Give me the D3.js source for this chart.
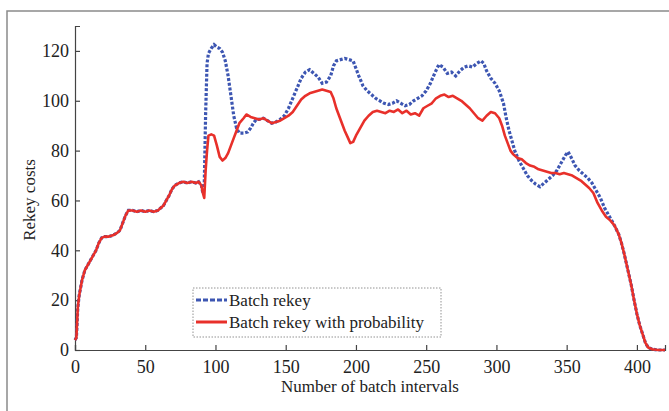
<!DOCTYPE html>
<html>
<head>
<meta charset="utf-8">
<script src="https://cdn.jsdelivr.net/npm/d3@7"></script>
<style>
  body { margin: 0; background: #fff; }
  text { font-family: "Liberation Serif", "DejaVu Serif", serif; fill: #222; }
</style>
</head>
<body>
<svg id="graph"></svg>
<script>
// x ticks / y ticks
var xTicks = [0, 50, 100, 150, 200, 250, 300, 350, 400]
var yTicks = [0, 20, 40, 60, 80, 100, 120]

// both curves follow the same path at the start and at the end
var sharedStart = [[0,4],[1,5],[2,17],[3,22],[5,28],[7,32],[9,34],[11,36],[13,38],[15,40],[17,43],[19,45],
  [21,45.5],[24,45.5],[27,46],[30,47],[32,48],[34,51],[36,54],[38,56],[41,56],[44,55.5],[47,56],[50,55.5],
  [53,56],[56,55.5],[59,56],[61,57],[63,58],[65,60],[67,62],[69,64.5],[71,66],[74,67],[77,67.5],[80,67],
  [83,67.5],[86,67],[88,67.5],[90,66],[91,63]]

var sharedEnd = [[384,50],[387,46.5],[389,43],[391,38.5],[394,31],[396,26],[398,20],[400,14.5],[402,10],
  [404,6.5],[406,3],[408,1],[411,0.3],[415,0],[420,0]]

// "Batch rekey with probability" between the shared parts
var probMiddle = [[92,61],[93,72],[94,80],[95,86],[97,86.5],[99,86],[101,82],[103,77.5],[105,76],[107,77],
  [109,79],[111,82],[113,85],[115,88],[117,91],[120,93],[122,94.5],[125,93.5],[128,93],[131,92.5],[134,93],
  [137,92],[140,91],[143,91.5],[146,92],[149,93],[152,94],[155,95.5],[158,98],[161,100.5],[164,102],[167,103],
  [170,103.5],[173,104],[176,104.5],[179,104],[182,103.5],[184,101],[186,97],[188,94],[190,91],[192,88],
  [194,85.5],[196,83],[198,83.5],[200,86],[203,89],[206,92],[209,94],[212,95.5],[215,96],[218,95.5],[221,95],
  [224,96],[227,95.5],[230,96.5],[233,95],[236,96],[239,94.5],[242,95],[245,94],[248,97],[251,98],[254,99],
  [257,101],[260,102],[263,102.5],[266,101.5],[269,102],[272,101],[275,100],[278,98.5],[281,97],[284,95],
  [287,93],[290,92],[293,94],[296,95.5],[299,95],[302,93],[304,90],[306,86],[308,83],[310,80],[312,78.5],
  [315,77],[318,76.5],[321,75],[324,74],[327,73.5],[330,72.5],[333,72],[336,71.5],[339,71],[342,71],
  [345,70.5],[348,71],[351,70.5],[354,70],[357,69],[360,68],[363,66.5],[366,65],[369,63],[372,59],[375,56],
  [378,53.5],[381,52]]

// "Batch rekey" between the shared parts
var batchMiddle = [[92,66],[93,95],[94,115],[95,119],[97,121],[99,122.5],[101,121.5],[103,121],[105,119.5],
  [107,116],[109,110],[111,102],[113,94],[115,89],[117,87],[120,87],[123,87.5],[125,89],[127,91],[129,92.5],
  [131,92.5],[134,93],[137,92],[140,91],[143,91.5],[146,92.5],[149,94],[152,97],[155,101],[158,105],[161,109],
  [164,111.5],[167,112.5],[170,111],[173,109.5],[176,107],[179,107.5],[182,110],[184,114],[186,116],[189,116.5],
  [192,117],[195,116.5],[198,116],[200,113],[202,110],[205,106],[208,104],[211,102.5],[214,101],[217,100],
  [220,99],[223,98.5],[226,99],[229,100],[232,99],[235,98],[238,98.5],[241,100],[244,101],[247,102],[250,104],
  [253,107],[256,111],[259,114.5],[262,113.5],[265,111],[268,111.5],[271,110],[274,112],[277,113.5],[280,114],
  [283,113.5],[286,115],[289,116],[291,115],[293,112],[296,109],[299,107],[302,104],[305,99],[307,93],[309,88],
  [311,84],[313,80],[316,76],[319,73],[322,70],[325,68],[328,66.5],[331,65.5],[334,67],[337,68.5],[340,70],
  [343,72],[346,75],[349,78],[351,79.5],[353,77.5],[356,74],[359,72],[362,70.5],[365,69],[368,67],[371,64],
  [374,61],[377,57],[380,54],[383,51]]

var seriesNames = ["Batch rekey", "Batch rekey with probability"]

var batchData = sharedStart.concat(batchMiddle, sharedEnd)
var probData = sharedStart.concat(probMiddle, sharedEnd)

var screen = {width: 669, height: 411}
var margin = {left: 75, right: 4, top: 26, bottom: 61}

var svg = d3.select("#graph")
    .attr("width", screen.width)
    .attr("height", screen.height)

// outer frame of the figure
svg.append("rect")
    .attr("x", 7)
    .attr("y", 11)
    .attr("width", 700)
    .attr("height", 500)
    .attr("fill", "none")
    .attr("stroke", "#8a8a8a")
    .attr("stroke-width", 1.5)

var xScale = d3.scaleLinear()
    .domain([0, 420])
    .range([margin.left, screen.width - margin.right])

var yScale = d3.scaleLinear()
    .domain([0, 130])
    .range([screen.height - margin.bottom, margin.top])

var xAxis = d3.axisBottom(xScale)
    .tickValues(xTicks)
    .tickSizeInner(-5)
    .tickSizeOuter(-5)
    .tickPadding(10)

var yAxis = d3.axisLeft(yScale)
    .tickValues(yTicks)
    .tickSizeInner(-5)
    .tickSizeOuter(-5)
    .tickPadding(6)

var gx = svg.append("g")
    .attr("transform", "translate(0," + yScale(0) + ")")
    .call(xAxis)

var gy = svg.append("g")
    .attr("transform", "translate(" + xScale(0) + ",0)")
    .call(yAxis)

svg.selectAll(".domain, .tick line")
    .attr("stroke", "#444")
    .attr("stroke-width", 1.2)
svg.selectAll(".tick text")
    .style("font-family", "'Liberation Serif', serif")
    .style("font-size", "18px")
    .attr("fill", "#222")

var line = d3.line()
    .x(function(d) { return xScale(d[0]) })
    .y(function(d) { return yScale(d[1]) })

svg.append("path")
    .datum(batchData)
    .attr("d", line)
    .attr("fill", "none")
    .attr("stroke", "#3d56b2")
    .attr("stroke-width", 3.2)
    .attr("stroke-dasharray", "3,1.8")

svg.append("path")
    .datum(probData)
    .attr("d", line)
    .attr("fill", "none")
    .attr("stroke", "#e8302a")
    .attr("stroke-width", 2.6)
    .attr("stroke-linejoin", "round")

// axis titles
svg.append("text")
    .attr("x", 370)
    .attr("y", 392)
    .attr("text-anchor", "middle")
    .style("font-size", "17px")
    .text("Number of batch intervals")

svg.append("text")
    .attr("transform", "translate(35,200) rotate(-90)")
    .attr("text-anchor", "middle")
    .style("font-size", "17px")
    .text("Rekey costs")

// legend
var legend = svg.append("g")
legend.append("rect")
    .attr("x", 193)
    .attr("y", 288)
    .attr("width", 248)
    .attr("height", 49)
    .attr("fill", "#fff")
    .attr("stroke", "#777")
    .attr("stroke-width", 0.8)
    .attr("stroke-dasharray", "1.5,1.5")

var legendColors = ["#3d56b2", "#e8302a"]
var legendDash = ["5,2", null]

seriesNames.forEach(function(name, i)
{
    var y = 300 + i * 22
    legend.append("line")
        .attr("x1", 196)
        .attr("x2", 227)
        .attr("y1", y)
        .attr("y2", y)
        .attr("stroke", legendColors[i])
        .attr("stroke-width", 3)
        .attr("stroke-dasharray", legendDash[i])
    legend.append("text")
        .attr("x", 229)
        .attr("y", y + 6)
        .style("font-size", "17px")
        .text(name)
})
</script>
</body>
</html>
